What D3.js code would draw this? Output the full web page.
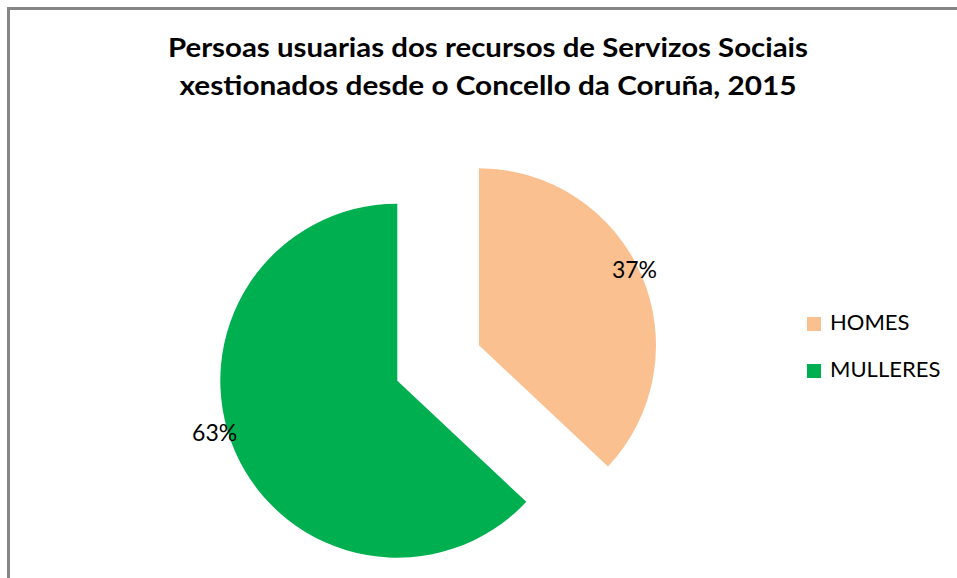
<!DOCTYPE html>
<html lang="gl">
<head>
	<meta charset="utf-8"/>
	<title>Persoas usuarias dos recursos de Servizos Sociais</title>
	<script src="https://d3js.org/d3.v7.min.js" charset="utf-8"></script>
	<style>
		body { margin: 0; background: #fff; }
		svg { display: block; }
		text { font-family: Lato, "Open Sans", sans-serif; fill: #000; }
	</style>
</head>
<body>
<div id="chart"></div>

<script>
// data
var categories = ["HOMES", "MULLERES"];
var shares = [37, 63];
var labels = ["37%", "63%"];
var titleLines = ["Persoas usuarias dos recursos de Servizos Sociais",
	"xestionados desde o Concello da Coruña, 2015"];

var width = 957,
	height = 578;
var colors = ["#fac090", "#00b050"];

var svg = d3.select("#chart").append("svg")
	.attr("width", width)
	.attr("height", height);

// chart area border (runs off the right and bottom)
svg.append("rect")
	.attr("x", 8.5)
	.attr("y", 8.5)
	.attr("width", width + 20)
	.attr("height", height + 20)
	.attr("fill", "#fff")
	.attr("stroke", "#868686")
	.attr("stroke-width", 3);

// title
svg.append("g")
	.selectAll("text")
	.data(titleLines)
	.enter().append("text")
		.attr("x", 488)
		.attr("y", function(d, i) { return 57 + i * 38; })
		.attr("text-anchor", "middle")
		.attr("font-size", 26)
		.attr("font-weight", "bold")
		.attr("textLength", function(d, i) { return i === 0 ? 640 : 617; })
		.attr("lengthAdjust", "spacingAndGlyphs")
		.text(function(d) { return d; });

// pie
var cx = 397.3, cy = 380.7, r = 177;
var explode = [89, 0];          // how far each slice is pulled out
var labelPos = [[64, 173], [254, 190]];   // label angle (deg) and distance from slice tip

var pie = d3.pie().sort(null).value(function(d) { return d; });
var arc = d3.arc().innerRadius(0).outerRadius(r);
var arcs = pie(shares);

var slices = svg.append("g")
	.attr("transform", "translate(" + cx + "," + cy + ")")
	.selectAll("g")
	.data(arcs)
	.enter().append("g")
		.attr("transform", function(d, i) {
			var a = (d.startAngle + d.endAngle) / 2;
			return "translate(" + (Math.sin(a) * explode[i]) + "," + (-Math.cos(a) * explode[i]) + ")";
		});

slices.append("path")
	.attr("d", arc)
	.attr("fill", function(d, i) { return colors[i]; });

slices.append("text")
	.attr("x", function(d, i) { return Math.sin(labelPos[i][0] * Math.PI / 180) * labelPos[i][1]; })
	.attr("y", function(d, i) { return -Math.cos(labelPos[i][0] * Math.PI / 180) * labelPos[i][1]; })
	.attr("dy", "0.36em")
	.attr("text-anchor", "middle")
	.attr("font-size", 23)
	.text(function(d, i) { return labels[i]; });

// legend
var legend = svg.append("g")
	.selectAll("g")
	.data(categories)
	.enter().append("g")
		.attr("transform", function(d, i) { return "translate(807," + (317 + i * 47) + ")"; });

legend.append("rect")
	.attr("width", 14)
	.attr("height", 14)
	.attr("fill", function(d, i) { return colors[i]; });

legend.append("text")
	.attr("x", 23)
	.attr("y", 13)
	.attr("font-size", 22)
	.text(function(d) { return d; });
</script>
</body>
</html>
